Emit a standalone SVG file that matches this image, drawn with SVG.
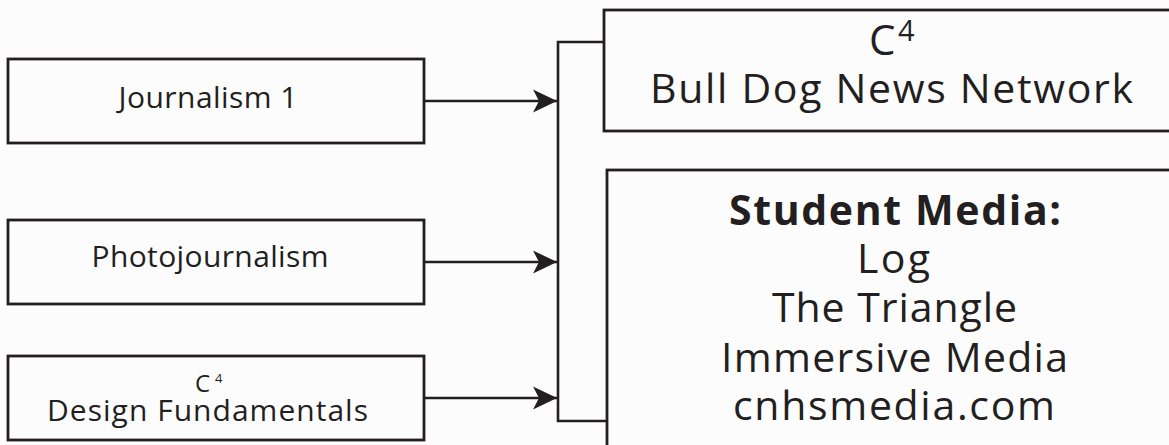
<svg xmlns="http://www.w3.org/2000/svg" width="1169" height="445" viewBox="0 0 1169 445">
<style>
.box{fill:none;stroke:#231f20;stroke-width:2.8}
.wire{fill:none;stroke:#231f20;stroke-width:2.6}
text{font-family:"Open Sans","Noto Sans",sans-serif;fill:#231f20}
.sm{font-size:30px}
.lg{font-size:41px}
.b{font-weight:700}
</style>
<defs>
<marker id="ah" markerUnits="userSpaceOnUse" markerWidth="26" markerHeight="26" refX="24" refY="12" orient="auto">
<path d="M0,0.5 L24,12 L0,23.5 L6,12 Z" fill="#231f20"/>
</marker>
</defs>
<rect width="1169" height="445" fill="#fcfcfc"/>
<g id="connectors">
<path class="wire" d="M424,101 H557" marker-end="url(#ah)"/>
<path class="wire" d="M424,262 H557" marker-end="url(#ah)"/>
<path class="wire" d="M424,398 H557" marker-end="url(#ah)"/>
<path class="wire" d="M604,42 H558 V421 H607"/>
</g>
<g id="journalism1">
<rect class="box" x="8" y="59" width="416" height="84"/>
<text class="sm" x="208" y="108" text-anchor="middle" textLength="179" lengthAdjust="spacing">Journalism 1</text>
</g>
<g id="photojournalism">
<rect class="box" x="8" y="220" width="416" height="84"/>
<text class="sm" x="210" y="267" text-anchor="middle" textLength="237" lengthAdjust="spacing">Photojournalism</text>
</g>
<g id="designfundamentals">
<rect class="box" x="8" y="356" width="416" height="84"/>
<text class="sm"><tspan x="195" y="392" font-size="24">C</tspan><tspan x="215" y="383" font-size="13">4</tspan><tspan x="207.5" y="421" text-anchor="middle" textLength="321" lengthAdjust="spacing">Design Fundamentals</tspan></text>
</g>
<g id="bulldog">
<rect class="box" x="604" y="10" width="575" height="121"/>
<text class="lg"><tspan x="869" y="55" font-size="42">C</tspan><tspan x="898" y="41" font-size="29">4</tspan><tspan x="891.5" y="103" text-anchor="middle" textLength="483" lengthAdjust="spacing">Bull Dog News Network</tspan></text>
</g>
<g id="studentmedia">
<rect class="box" x="607" y="170" width="572" height="290"/>
<text class="lg" text-anchor="middle"><tspan class="b" x="895" y="225" textLength="332" lengthAdjust="spacing">Student Media:</tspan><tspan x="893.5" y="273" textLength="73" lengthAdjust="spacing">Log</tspan><tspan x="894.5" y="322" textLength="245" lengthAdjust="spacing">The Triangle</tspan><tspan x="894.5" y="372" textLength="347" lengthAdjust="spacing">Immersive Media</tspan><tspan x="894" y="420" textLength="322" lengthAdjust="spacing">cnhsmedia.com</tspan></text>
</g>
</svg>
